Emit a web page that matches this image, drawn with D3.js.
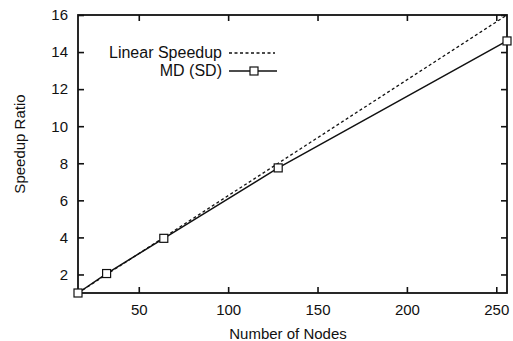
<!DOCTYPE html>
<html><head><meta charset="utf-8">
<script src="https://cdn.jsdelivr.net/npm/d3@7"></script>
<style>body{margin:0;background:#fff}text{font-family:"Liberation Sans",Arial,sans-serif;fill:#111}</style>
</head><body><svg id="c" width="513" height="341"></svg>
<script>
const nodes = [16, 32, 64, 128, 256];
const linearSpeedup = [1, 2, 4, 8, 16];
const mdSpeedup = [1, 2.05, 3.95, 7.75, 14.6];
const xTicks = [50, 100, 150, 200, 250];
const yTicks = [2, 4, 6, 8, 10, 12, 14, 16];

const svg = d3.select("#c");
const L = 78, R = 507, T = 15, B = 293;
const x = d3.scaleLinear().domain([16, 256]).range([L, R]);
const y = d3.scaleLinear().domain([1, 16]).range([B, T]);
const fs = 15;

// frame
svg.append("rect").attr("x", L).attr("y", T).attr("width", R - L).attr("height", B - T)
  .attr("fill", "none").attr("stroke", "#111").attr("stroke-width", 1.8);

// axes with inward ticks
const gx = svg.append("g").attr("transform", `translate(0,${B})`)
  .call(d3.axisBottom(x).tickValues(xTicks).tickSize(-6).tickPadding(11));
const gxt = svg.append("g").attr("transform", `translate(0,${T})`)
  .call(d3.axisTop(x).tickValues(xTicks).tickSize(-6).tickFormat(""));
const gy = svg.append("g").attr("transform", `translate(${L},0)`)
  .call(d3.axisLeft(y).tickValues(yTicks).tickSize(-6).tickPadding(10));
const gyr = svg.append("g").attr("transform", `translate(${R},0)`)
  .call(d3.axisRight(y).tickValues(yTicks).tickSize(-6).tickFormat(""));
[gx, gxt, gy, gyr].forEach(g => {
  g.select(".domain").remove();
  g.selectAll("line").attr("stroke", "#111").attr("stroke-width", 1.6);
  g.selectAll("text").attr("font-size", fs).attr("font-family", '"Liberation Sans",Arial,sans-serif').attr("fill", "#111");
});

// lines
const line = d3.line().x(d => x(d[0])).y(d => y(d[1]));
svg.append("path").datum(nodes.map((n, i) => [n, linearSpeedup[i]]))
  .attr("d", line).attr("fill", "none").attr("stroke", "#111").attr("stroke-width", 1.3)
  .attr("stroke-dasharray", "3,2.5");
svg.append("path").datum(nodes.map((n, i) => [n, mdSpeedup[i]]))
  .attr("d", line).attr("fill", "none").attr("stroke", "#111").attr("stroke-width", 1.5);
svg.selectAll("rect.pt").data(nodes.map((n, i) => [n, mdSpeedup[i]])).enter()
  .append("rect").attr("class", "pt")
  .attr("x", d => x(d[0]) - 4).attr("y", d => y(d[1]) - 4)
  .attr("width", 8).attr("height", 8)
  .attr("fill", "#fff").attr("stroke", "#111").attr("stroke-width", 1.2);

// legend
svg.append("text").attr("x", 222).attr("y", 58).attr("text-anchor", "end").attr("font-size", 16).text("Linear Speedup");
svg.append("line").attr("x1", 229).attr("x2", 275).attr("y1", 53).attr("y2", 53)
  .attr("stroke", "#111").attr("stroke-width", 1.3).attr("stroke-dasharray", "3,2.5");
svg.append("text").attr("x", 222).attr("y", 76).attr("text-anchor", "end").attr("font-size", 16).text("MD (SD)");
svg.append("line").attr("x1", 229).attr("x2", 277).attr("y1", 71).attr("y2", 71)
  .attr("stroke", "#111").attr("stroke-width", 1.5);
svg.append("rect").attr("x", 250).attr("y", 67).attr("width", 8).attr("height", 8)
  .attr("fill", "#fff").attr("stroke", "#111").attr("stroke-width", 1.2);

// axis titles
svg.append("text").attr("x", 288).attr("y", 339).attr("text-anchor", "middle").attr("font-size", fs).text("Number of Nodes");
svg.append("text").attr("transform", "translate(25,144) rotate(-90)").attr("text-anchor", "middle").attr("font-size", fs).text("Speedup Ratio");
</script></body></html>
